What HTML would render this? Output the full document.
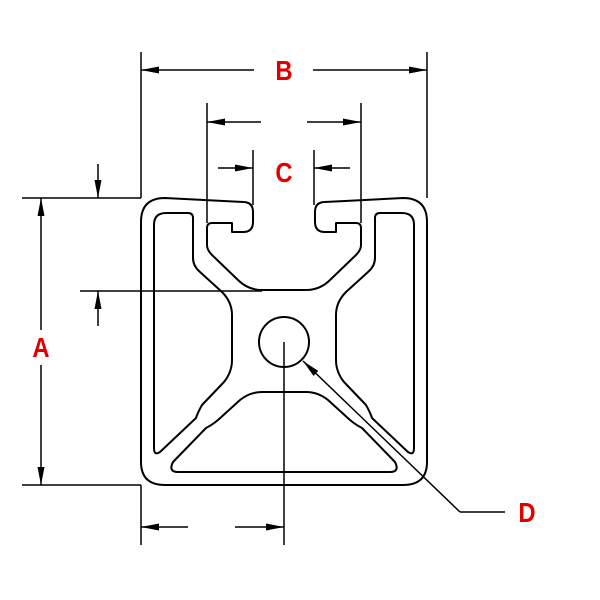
<!DOCTYPE html>
<html><head><style>body{margin:0;background:#fff}svg{display:block}</style></head><body>
<svg width="600" height="600" viewBox="0 0 600 600" xmlns="http://www.w3.org/2000/svg">
<defs>
<marker id="ar" viewBox="0 0 18 7" refX="18" refY="3.5" markerWidth="18" markerHeight="7" markerUnits="userSpaceOnUse" orient="auto">
<path d="M0,0 L18,3.5 L0,7 Z" fill="#000"/>
</marker>
</defs>
<g fill="none" stroke="#000" stroke-width="2" stroke-linejoin="round">
<path d="M262,290 Q248,290 238,280 L212,255 Q207,250 207,245 L207,228 Q207,223 212,223 L232,223 L232,232 L243,232 Q253,232 253,222 L253,212 Q253,202 243,202 L165,198 Q141,198 141,222 L141,462 Q141,485 165,485 L403,485 Q427,485 427,462 L427,222 Q427,198 403,198 L325,202 Q315,202 315,212 L315,222 Q315,232 325,232 L336,232 L336,223 L356,223 Q361,223 361,228 L361,245 Q361,250 356,255 L330,280 Q320,290 306,290 Z"/>
<path d="M154,225 Q154,213 166,213 L188,213 Q193,213 193,218 L193,258 Q193,266 200,272 L222,292 Q232,302 232,315 L232,360 Q232,372 224,382 L202,405 Q198,412 196,418 L160,452 Q154,456 154,448 Z"/>
<path d="M154,225 Q154,213 166,213 L188,213 Q193,213 193,218 L193,258 Q193,266 200,272 L222,292 Q232,302 232,315 L232,360 Q232,372 224,382 L202,405 Q198,412 196,418 L160,452 Q154,456 154,448 Z" transform="translate(568,0) scale(-1,1)"/>
<path d="M262,392 L306,392 Q318,392 328,400 L350,420 Q356,425 362,428 L395,462 Q400,472 390,472 L178,472 Q168,472 173,462 L206,428 Q212,425 218,420 L240,400 Q250,392 262,392 Z"/>
<circle cx="284" cy="342" r="25"/>
</g>
<g fill="none" stroke="#000" stroke-width="1.5">
<line x1="141" y1="52" x2="141" y2="198"/><line x1="427" y1="52" x2="427" y2="198"/>
<line x1="254" y1="70" x2="141" y2="70" marker-end="url(#ar)"/><line x1="313" y1="70" x2="427" y2="70" marker-end="url(#ar)"/>
<line x1="207" y1="103" x2="207" y2="223"/><line x1="361" y1="103" x2="361" y2="223"/>
<line x1="261" y1="122" x2="207" y2="122" marker-end="url(#ar)"/><line x1="307" y1="122" x2="361" y2="122" marker-end="url(#ar)"/>
<line x1="253" y1="150" x2="253" y2="205"/><line x1="314" y1="150" x2="314" y2="205"/>
<line x1="218" y1="168" x2="253" y2="168" marker-end="url(#ar)"/><line x1="350" y1="168" x2="314" y2="168" marker-end="url(#ar)"/>
<line x1="22" y1="198" x2="141" y2="198"/><line x1="22" y1="485" x2="141" y2="485"/>
<line x1="41" y1="330" x2="41" y2="198" marker-end="url(#ar)"/><line x1="41" y1="365" x2="41" y2="485" marker-end="url(#ar)"/>
<line x1="98" y1="164" x2="98" y2="198" marker-end="url(#ar)"/>
<line x1="80" y1="291" x2="262" y2="291"/>
<line x1="98" y1="326" x2="98" y2="291" marker-end="url(#ar)"/>
<line x1="141" y1="485" x2="141" y2="545"/><line x1="284" y1="342" x2="284" y2="545"/>
<line x1="188" y1="527" x2="141" y2="527" marker-end="url(#ar)"/><line x1="235" y1="527" x2="284" y2="527" marker-end="url(#ar)"/>
<line x1="460" y1="512" x2="303" y2="361" marker-end="url(#ar)"/><line x1="460" y1="512" x2="505" y2="512"/>
</g>
<g fill="#e00000" font-family="'Liberation Sans Narrow','Liberation Sans',sans-serif" font-weight="bold" font-size="28" text-anchor="middle">
<text x="284" y="80" transform="translate(284,0) scale(0.85,1) translate(-284,0)">B</text>
<text x="284" y="182" transform="translate(284,0) scale(0.85,1) translate(-284,0)">C</text>
<text x="41" y="357" transform="translate(41,0) scale(0.85,1) translate(-41,0)">A</text>
<text x="527" y="522" transform="translate(527,0) scale(0.85,1) translate(-527,0)">D</text>
</g>
</svg>
</body></html>
